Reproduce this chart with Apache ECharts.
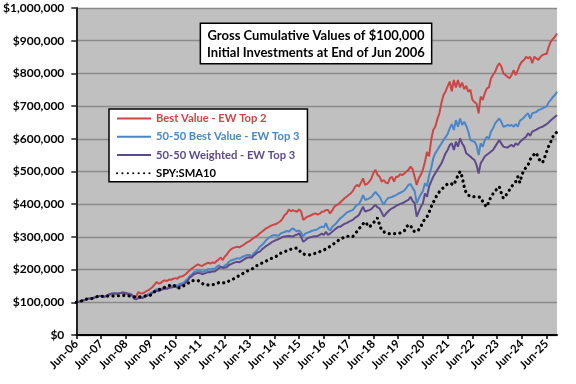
<!DOCTYPE html>
<html>
<head>
<meta charset="utf-8">
<script src="https://cdn.jsdelivr.net/npm/echarts@6/dist/echarts.min.js"></script>
<style>
html,body{margin:0;padding:0;background:#fff;}
#chart{width:576px;height:384px;}
</style>
</head>
<body>
<div id="chart"></div>
<script>
// Monthly categories, Jun-06 .. Nov-25
const categories = [
'Jun-06','Jul-06','Aug-06','Sep-06','Oct-06','Nov-06','Dec-06','Jan-07','Feb-07','Mar-07','Apr-07','May-07',
'Jun-07','Jul-07','Aug-07','Sep-07','Oct-07','Nov-07','Dec-07','Jan-08','Feb-08','Mar-08','Apr-08','May-08',
'Jun-08','Jul-08','Aug-08','Sep-08','Oct-08','Nov-08','Dec-08','Jan-09','Feb-09','Mar-09','Apr-09','May-09',
'Jun-09','Jul-09','Aug-09','Sep-09','Oct-09','Nov-09','Dec-09','Jan-10','Feb-10','Mar-10','Apr-10','May-10',
'Jun-10','Jul-10','Aug-10','Sep-10','Oct-10','Nov-10','Dec-10','Jan-11','Feb-11','Mar-11','Apr-11','May-11',
'Jun-11','Jul-11','Aug-11','Sep-11','Oct-11','Nov-11','Dec-11','Jan-12','Feb-12','Mar-12','Apr-12','May-12',
'Jun-12','Jul-12','Aug-12','Sep-12','Oct-12','Nov-12','Dec-12','Jan-13','Feb-13','Mar-13','Apr-13','May-13',
'Jun-13','Jul-13','Aug-13','Sep-13','Oct-13','Nov-13','Dec-13','Jan-14','Feb-14','Mar-14','Apr-14','May-14',
'Jun-14','Jul-14','Aug-14','Sep-14','Oct-14','Nov-14','Dec-14','Jan-15','Feb-15','Mar-15','Apr-15','May-15',
'Jun-15','Jul-15','Aug-15','Sep-15','Oct-15','Nov-15','Dec-15','Jan-16','Feb-16','Mar-16','Apr-16','May-16',
'Jun-16','Jul-16','Aug-16','Sep-16','Oct-16','Nov-16','Dec-16','Jan-17','Feb-17','Mar-17','Apr-17','May-17',
'Jun-17','Jul-17','Aug-17','Sep-17','Oct-17','Nov-17','Dec-17','Jan-18','Feb-18','Mar-18','Apr-18','May-18',
'Jun-18','Jul-18','Aug-18','Sep-18','Oct-18','Nov-18','Dec-18','Jan-19','Feb-19','Mar-19','Apr-19','May-19',
'Jun-19','Jul-19','Aug-19','Sep-19','Oct-19','Nov-19','Dec-19','Jan-20','Feb-20','Mar-20','Apr-20','May-20',
'Jun-20','Jul-20','Aug-20','Sep-20','Oct-20','Nov-20','Dec-20','Jan-21','Feb-21','Mar-21','Apr-21','May-21',
'Jun-21','Jul-21','Aug-21','Sep-21','Oct-21','Nov-21','Dec-21','Jan-22','Feb-22','Mar-22','Apr-22','May-22',
'Jun-22','Jul-22','Aug-22','Sep-22','Oct-22','Nov-22','Dec-22','Jan-23','Feb-23','Mar-23','Apr-23','May-23',
'Jun-23','Jul-23','Aug-23','Sep-23','Oct-23','Nov-23','Dec-23','Jan-24','Feb-24','Mar-24','Apr-24','May-24',
'Jun-24','Jul-24','Aug-24','Sep-24','Oct-24','Nov-24','Dec-24','Jan-25','Feb-25','Mar-25','Apr-25','May-25',
'Jun-25','Jul-25','Aug-25','Sep-25','Oct-25','Nov-25'
];

// Values in $ thousands
const bestValueTop2 = [
100,101,103,105,107,109,111,112,113,115,117,119,
119,117,118,121,124,126,127,127,126,128,129,129,
129,127,126,123,114,117,131,128,127,130,134,137,
142,147,155,162,157,159,165,167,165,170,169,172,
174,172,178,179,181,186,192,198,203,208,212,216,
213,211,215,218,221,218,222,220,226,231,237,229,
240,246,256,262,266,268,270,268,272,275,280,284,
287,292,297,301,305,311,316,321,326,329,333,336,
338,340,344,348,356,367,372,384,378,382,379,377,
384,377,352,357,362,364,367,370,372,368,371,377,
378,382,382,372,380,392,396,400,406,412,418,423,
428,433,440,452,459,454,466,479,459,462,469,478,
495,505,490,484,469,474,466,464,479,484,469,484,
484,492,489,494,500,505,515,507,484,459,479,490,
505,530,560,546,596,627,637,660,678,710,734,745,
760,775,745,780,757,780,757,772,752,762,744,750,
719,712,708,678,729,719,739,754,757,785,795,805,
821,831,821,800,795,790,785,795,810,795,810,826,
836,841,851,846,851,831,851,846,841,851,856,859,
859,882,897,905,912,922
];
const bestValue5050Top3 = [
100,101,103,105,107,109,111,112,113,115,117,119,
119,117,118,121,124,126,127,127,126,128,129,129,
128,126,126,122,112,110,114,116,115,118,121,125,
128,132,137,140,138,140,144,145,143,147,149,152,
153,150,156,158,160,166,172,180,185,192,194,197,
196,193,195,198,201,200,203,202,208,213,209,208,
212,216,224,228,230,232,235,233,237,240,243,245,
245,240,250,255,262,270,275,282,290,296,300,304,
306,305,303,310,313,315,318,316,322,326,321,317,
320,313,302,310,313,315,318,320,321,324,329,331,
329,342,326,320,330,336,342,350,357,362,368,374,
377,380,382,390,398,400,412,428,413,415,418,422,
430,438,430,423,410,398,410,418,420,422,425,428,
432,435,438,442,450,459,462,450,440,403,418,430,
440,464,455,489,510,540,556,566,576,586,596,605,
615,632,645,627,657,637,662,642,652,640,622,596,
593,591,580,550,586,576,596,606,601,622,632,647,
655,662,652,637,639,642,640,642,637,645,637,655,
660,665,673,678,662,678,680,682,688,690,693,696,
700,712,719,728,734,744
];
const weighted5050Top3 = [
100,101,103,105,107,109,111,112,113,115,117,119,
119,117,118,121,124,126,127,127,126,128,129,129,
127,125,125,121,111,109,112,114,113,116,119,122,
125,129,132,135,134,137,140,142,141,144,145,147,
148,145,150,152,154,160,166,176,180,186,188,190,
189,186,188,190,193,192,195,194,198,204,208,205,
206,208,214,217,220,222,224,222,226,230,234,237,
238,236,243,248,253,255,262,267,272,276,280,285,
288,291,293,296,300,301,302,303,302,301,305,307,
311,300,285,290,296,298,300,301,302,303,306,310,
306,316,306,310,316,321,326,331,331,336,340,342,
346,349,352,358,362,367,380,392,377,380,382,385,
392,398,390,387,375,362,370,377,383,387,390,395,
398,401,403,406,410,413,423,410,403,362,377,392,
403,433,423,454,470,484,495,505,515,525,540,556,
566,581,586,566,591,576,601,586,576,556,551,546,
540,535,520,494,525,535,546,551,556,561,566,576,
586,596,586,576,574,573,578,581,576,586,581,590,
596,601,606,617,609,622,625,628,632,635,637,641,
645,650,657,662,667,673
];
const spySma10 = [
100,101,103,105,108,110,111,111,112,114,117,119,
119,118,119,119,119,120,119,119,120,120,121,121,
121,120,119,118,117,116,116,117,118,119,120,121,
122,127,133,137,139,140,144,146,149,151,152,153,
149,143,144,146,150,155,157,162,166,166,167,166,
164,158,154,153,153,153,154,155,157,160,161,160,
159,161,165,168,171,174,178,182,185,189,192,196,
199,201,205,210,214,217,220,223,226,230,233,235,
238,241,245,250,252,255,257,260,262,264,265,266,
260,251,248,246,245,245,246,248,250,253,255,258,
260,263,267,271,275,280,285,289,294,296,300,302,
302,301,301,308,316,325,332,340,346,338,330,336,
342,352,358,337,320,316,312,310,310,310,310,310,
310,312,314,318,331,336,336,321,316,316,322,331,
346,355,362,375,392,405,418,430,438,445,451,457,
462,464,462,459,474,488,500,484,454,434,428,423,
423,423,423,422,421,408,398,392,408,423,432,441,
447,454,434,418,425,434,444,454,462,469,484,466,
490,505,512,520,537,545,553,557,540,532,527,543,
561,578,591,606,617,620
];

const seriesNames = ['Best Value - EW Top 2','50-50 Best Value - EW Top 3','50-50 Weighted - EW Top 3','SPY:SMA10'];
const seriesColors = ['#cc4646','#4a86c8','#5e4a8a','#000000'];
const yTickLabels = ['$0','$100,000','$200,000','$300,000','$400,000','$500,000','$600,000','$700,000','$800,000','$900,000','$1,000,000'];
const titleLines = ['Gross Cumulative Values of $100,000','Initial Investments at End of Jun 2006'];

const toDollars = arr => arr.map(v => v * 1000);

const chart = echarts.init(document.getElementById('chart'), null, {renderer: 'canvas'});
const FONT = 'Lato, "Open Sans", sans-serif';

const seriesData = [bestValueTop2, bestValue5050Top3, weighted5050Top3, spySma10];
const series = seriesData.map((d, i) => ({
  name: seriesNames[i],
  type: 'line',
  data: toDollars(d),
  symbol: 'none',
  smooth: false,
  z: 2 + i,
  lineStyle: i === 3
    ? {color: seriesColors[i], width: 3.2, type: [0.1, 5.3], cap: 'round'}
    : {color: seriesColors[i], width: 2},
  itemStyle: {color: seriesColors[i]}
}));

chart.setOption({
  animation: false,
  backgroundColor: '#ffffff',
  grid: {left: 76, right: 19, top: 8, bottom: 49, show: true, backgroundColor: '#c0c0c0', borderWidth: 0, containLabel: false},
  xAxis: {
    type: 'category',
    data: categories,
    boundaryGap: false,
    axisLine: {lineStyle: {color: '#000', width: 2}},
    axisTick: {show: true, interval: 11, length: 4, lineStyle: {color: '#000', width: 1.5}},
    axisLabel: {interval: 11, rotate: 45, margin: 7, color: '#000', fontFamily: FONT, fontWeight: 'bold', fontSize: 11.5},
    splitLine: {show: false}
  },
  yAxis: {
    type: 'value',
    min: 0, max: 1000000, interval: 100000,
    axisLine: {show: true, lineStyle: {color: '#222', width: 2}},
    axisTick: {show: true, length: 5, lineStyle: {color: '#222', width: 1.5}},
    axisLabel: {margin: 12, color: '#000', fontFamily: FONT, fontWeight: 'bold', fontSize: 12,
      formatter: v => yTickLabels[Math.round(v / 100000)]},
    splitLine: {show: true, lineStyle: {color: '#8a8a8a', width: 1.3}}
  },
  legend: {
    orient: 'vertical',
    left: 109, top: 109,
    itemWidth: 34, itemHeight: 14, itemGap: 7,
    padding: [4, 8, 3, 7],
    backgroundColor: '#ffffff', borderColor: '#000', borderWidth: 1.5,
    itemStyle: {color: 'rgba(0,0,0,0)', borderColor: 'rgba(0,0,0,0)', borderWidth: 0, opacity: 0},
    textStyle: {fontFamily: FONT, fontWeight: 'bold', fontSize: 11.2},
    data: seriesNames.map((n, i) => ({name: n, textStyle: {color: seriesColors[i]}}))
  },
  graphic: [{
    type: 'text',
    x: 316, y: 24, z: 100,
    style: {
      text: titleLines.join('\n'),
      align: 'center', verticalAlign: 'top',
      font: 'bold 13px ' + FONT,
      lineHeight: 17,
      fill: '#000',
      backgroundColor: '#ffffff', borderColor: '#000', borderWidth: 1.5,
      padding: [3, 6, 2, 6]
    }
  }],
  series: series
});
</script>
</body>
</html>
